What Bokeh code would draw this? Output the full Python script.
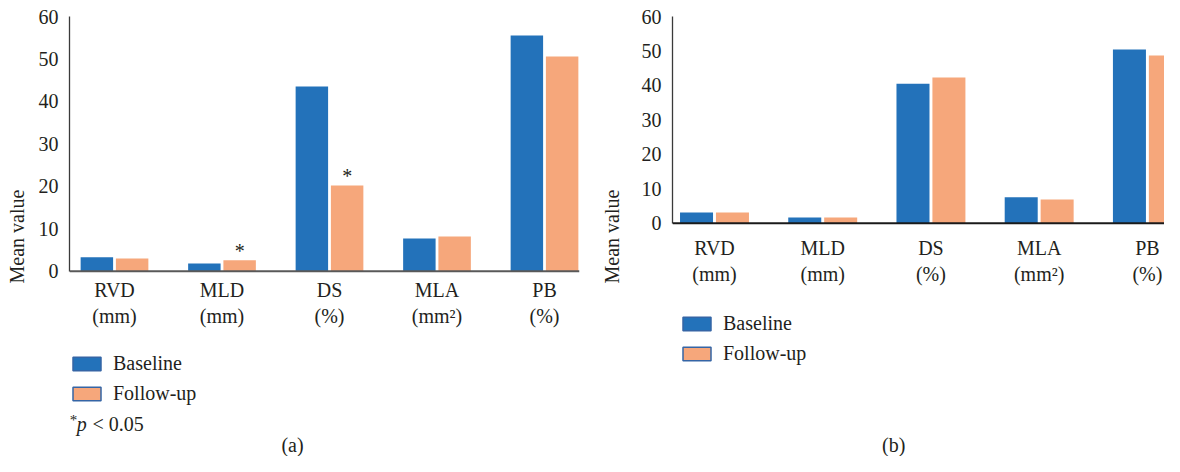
from bokeh.plotting import figure
from bokeh.layouts import row
from bokeh.models import (ColumnDataSource, Range1d, FixedTicker, Legend, LegendItem,
                          Label, Span)
from bokeh.transform import dodge
from bokeh.core.properties import value
from bokeh.embed import file_html
from bokeh.resources import INLINE

# ---------------- data ----------------
categories = ["RVD\n(mm)", "MLD\n(mm)", "DS\n(%)", "MLA\n(mm\u00b2)", "PB\n(%)"]
series_names = ["Baseline", "Follow-up"]
a_baseline = [3.3, 1.8, 43.5, 7.7, 55.5]
a_followup = [3.0, 2.6, 20.2, 8.2, 50.6]
a_signif = ["", "*", "*", "", ""]
b_baseline = [3.1, 1.65, 40.5, 7.5, 50.4]
b_followup = [3.1, 1.65, 42.3, 6.9, 48.7]
y_ticks = [0, 10, 20, 30, 40, 50, 60]

# ---------------- style ----------------
FONT = "Liberation Serif"
FS = "20px"
TXT = "#231F20"
BLUE = "#2372BA"
ORANGE = "#F6A77B"
EDGE = "#3565A5"


def make_panel(base, foll, width, xr, ymin, min_left, min_right, base_color,
               tick_standoff, axlabel_standoff, cat_y, bar_w, off,
               legend_loc, signif=None):
    idx = list(range(len(categories)))
    src = ColumnDataSource(dict(x=idx, base=base, foll=foll, cat=categories,
                                sig=signif if signif else [""] * len(idx)))
    p = figure(width=width, height=456, x_range=Range1d(*xr), y_range=Range1d(ymin, 60),
               output_backend="svg", toolbar_location=None, x_axis_location=None,
               min_border_left=min_left, min_border_right=min_right,
               min_border_top=16, min_border_bottom=0)
    p.title.visible = False
    p.outline_line_color = None
    p.grid.visible = False
    p.background_fill_color = "white"
    p.border_fill_color = "white"

    p.vbar(x=dodge("x", -off, range=p.x_range), top="base", bottom=0, width=bar_w,
           source=src, fill_color=BLUE, line_color=None)
    p.vbar(x=dodge("x", off, range=p.x_range), top="foll", bottom=0, width=bar_w,
           source=src, fill_color=ORANGE, line_color=None)
    if signif:
        p.text(x=dodge("x", off, range=p.x_range), y="foll", text="sig", source=src,
               text_font=value(FONT), text_font_size=FS, text_color=TXT,
               text_align="center", text_baseline="alphabetic", y_offset=-9)

    # baseline (x axis line)
    p.add_layout(Span(location=0, dimension="width", line_color=base_color, line_width=2))

    # category labels
    p.text(x="x", y=cat_y, text="cat", source=src, text_font=value(FONT),
           text_font_size=FS, text_color=TXT, text_align="center",
           text_baseline="top", text_line_height=1.18)

    # legend: hidden renderers carry the swatch style (outlined)
    r1 = p.vbar(x="x", top="base", width=bar_w, source=src, fill_color=BLUE,
                line_color=EDGE, line_width=1.5, visible=False)
    r2 = p.vbar(x="x", top="foll", width=bar_w, source=src, fill_color=ORANGE,
                line_color=EDGE, line_width=1.5, visible=False)
    leg = Legend(items=[LegendItem(label=series_names[0], renderers=[r1]),
                        LegendItem(label=series_names[1], renderers=[r2])],
                 location=legend_loc, glyph_width=35, glyph_height=17,
                 label_standoff=9, spacing=7, padding=0, margin=0,
                 border_line_alpha=0, background_fill_alpha=0,
                 inactive_fill_alpha=0,
                 label_text_font=FONT, label_text_font_size=FS, label_text_color=TXT)
    p.add_layout(leg)

    # y axis
    ya = p.yaxis[0]
    ya.bounds = (0, 60)
    ya.ticker = FixedTicker(ticks=y_ticks)
    ya.minor_tick_line_color = None
    ya.major_tick_out = 0
    ya.major_tick_in = 0
    ya.axis_line_color = "#3a3a3a"
    ya.axis_line_width = 1.3
    ya.major_label_standoff = tick_standoff
    ya.major_label_text_font = FONT
    ya.major_label_text_font_size = FS
    ya.major_label_text_color = TXT
    ya.axis_label = "Mean value"
    ya.axis_label_text_font = FONT
    ya.axis_label_text_font_size = FS
    ya.axis_label_text_font_style = "normal"
    ya.axis_label_text_color = TXT
    ya.axis_label_standoff = axlabel_standoff
    return p


# panel (a): 1 category = 107.5 px, 1 unit = 4.245 px
pa = make_panel(a_baseline, a_followup, 590, (-0.4186, 4.3256), -43.65, 69, 11, "#595959",
                11, 8, -1.85, 0.302, 0.164, (0, 51), signif=a_signif)
# panel (b): 1 category = 108.3 px, 1 unit = 3.445 px
pb = make_panel(b_baseline, b_followup, 574, (-0.388, 4.158), -67.72, 82, 0, "#1a1a1a",
                11, 16, -4.1, 0.305, 0.166, (7, 91))

# footnote in panel (a)
pa.add_layout(Label(x=-0.416, y=-35.0, text="*", text_font=FONT, text_font_size="15px",
                    text_color=TXT, text_align="left", text_baseline="alphabetic"))
pa.add_layout(Label(x=-0.35, y=-35.9, text="p", text_font=FONT, text_font_size=FS,
                    text_font_style="italic", text_color=TXT, text_align="left",
                    text_baseline="alphabetic"))
pa.add_layout(Label(x=-0.205, y=-35.9, text="< 0.05", text_font=FONT, text_font_size=FS,
                    text_color=TXT, text_align="left", text_baseline="alphabetic"))
# captions
pa.add_layout(Label(x=1.656, y=-41.0, text="(a)", text_font=FONT, text_font_size=FS,
                    text_color=TXT, text_align="center", text_baseline="middle"))
pb.add_layout(Label(x=1.656, y=-64.5, text="(b)", text_font=FONT, text_font_size=FS,
                    text_color=TXT, text_align="center", text_baseline="middle"))

layout = row(pa, pb)
open("out.html", "w").write(file_html(layout, INLINE))
